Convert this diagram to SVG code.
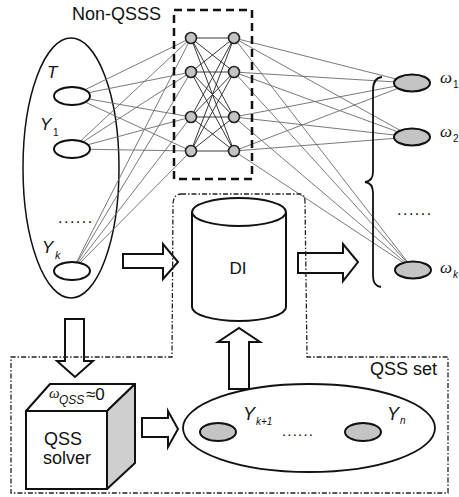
<svg xmlns="http://www.w3.org/2000/svg" width="459" height="497" viewBox="0 0 459 497">
<style>
.in{stroke:#6a6a6a;stroke-width:0.9;fill:none}
.hid{stroke:#222;stroke-width:0.9;fill:none}
.out{stroke:#6a6a6a;stroke-width:0.9;fill:none}
.node{fill:#fff;stroke:#111;stroke-width:2}
.gnode{fill:#c4c4c4;stroke:#111;stroke-width:2}
.neuron{fill:#c4c4c4;stroke:#222;stroke-width:1.6}
.blk{fill:#fff;stroke:#111;stroke-width:2;stroke-linejoin:miter}
.dd{fill:none;stroke:#222;stroke-width:1.3;stroke-dasharray:5 2 1.5 2}
.sans{font-family:"Liberation Sans",Arial,sans-serif;fill:#111}
.it{font-family:"Liberation Sans",Arial,sans-serif;font-style:italic;fill:#111}
.om{font-family:"Liberation Serif","Times New Roman",serif;font-style:italic;fill:#111}
</style>
<rect width="459" height="497" fill="#fff"/>

<g id="input-set">
<ellipse cx="71" cy="168" rx="48" ry="130" fill="none" stroke="#111" stroke-width="1.5"/>
</g>

<g id="connectors">
<g class="in">
<line x1="72" y1="96" x2="191" y2="38"/><line x1="72" y1="96" x2="191" y2="72"/><line x1="72" y1="96" x2="191" y2="117"/><line x1="72" y1="96" x2="191" y2="151"/>
<line x1="72" y1="149" x2="191" y2="38"/><line x1="72" y1="149" x2="191" y2="72"/><line x1="72" y1="149" x2="191" y2="117"/><line x1="72" y1="149" x2="191" y2="151"/>
<line x1="72" y1="271" x2="191" y2="38"/><line x1="72" y1="271" x2="191" y2="72"/><line x1="72" y1="271" x2="191" y2="117"/><line x1="72" y1="271" x2="191" y2="151"/>
</g>
<g class="hid">
<line x1="191" y1="38" x2="234" y2="38"/><line x1="191" y1="38" x2="234" y2="72"/><line x1="191" y1="38" x2="234" y2="117"/><line x1="191" y1="38" x2="234" y2="151"/>
<line x1="191" y1="72" x2="234" y2="38"/><line x1="191" y1="72" x2="234" y2="72"/><line x1="191" y1="72" x2="234" y2="117"/><line x1="191" y1="72" x2="234" y2="151"/>
<line x1="191" y1="117" x2="234" y2="38"/><line x1="191" y1="117" x2="234" y2="72"/><line x1="191" y1="117" x2="234" y2="117"/><line x1="191" y1="117" x2="234" y2="151"/>
<line x1="191" y1="151" x2="234" y2="38"/><line x1="191" y1="151" x2="234" y2="72"/><line x1="191" y1="151" x2="234" y2="117"/><line x1="191" y1="151" x2="234" y2="151"/>
</g>
<g class="out">
<line x1="234" y1="38" x2="412" y2="83"/><line x1="234" y1="38" x2="412" y2="137"/><line x1="234" y1="38" x2="413" y2="269"/>
<line x1="234" y1="72" x2="412" y2="83"/><line x1="234" y1="72" x2="412" y2="137"/><line x1="234" y1="72" x2="413" y2="269"/>
<line x1="234" y1="117" x2="412" y2="83"/><line x1="234" y1="117" x2="412" y2="137"/><line x1="234" y1="117" x2="413" y2="269"/>
<line x1="234" y1="151" x2="412" y2="83"/><line x1="234" y1="151" x2="412" y2="137"/><line x1="234" y1="151" x2="413" y2="269"/>
</g>
<polygon class="blk" points="123,254 163,254 163,244 178,262 163,279 163,268 123,268"/>
<polygon class="blk" points="298,253 343,253 343,244 358,262 343,281 343,273 298,273"/>
<polygon class="blk" points="65,319 84,319 84,361 93,361 75,377 57,361 65,361"/>
<polygon class="blk" points="142,418 168,418 168,411 178,429 168,447 168,437 142,437"/>
<polygon class="blk" points="229,389 229,342 218,342 239,328 260,342 249,342 249,389"/>
</g>

<g id="non-qsss">
<rect x="174" y="10" width="78" height="169" fill="none" stroke="#111" stroke-width="2.5" stroke-dasharray="8 5"/>
<text class="sans" x="72" y="20" font-size="18">Non-QSSS</text>
<circle class="neuron" cx="191" cy="38" r="5.5"/><circle class="neuron" cx="191" cy="72" r="5.5"/><circle class="neuron" cx="191" cy="117" r="5.5"/><circle class="neuron" cx="191" cy="151" r="5.5"/>
<circle class="neuron" cx="234" cy="38" r="5.5"/><circle class="neuron" cx="234" cy="72" r="5.5"/><circle class="neuron" cx="234" cy="117" r="5.5"/><circle class="neuron" cx="234" cy="151" r="5.5"/>
</g>

<g id="input-T">
<ellipse class="node" cx="72" cy="96" rx="18" ry="9"/>
<text class="it" x="47" y="78" font-size="17">T</text>
</g>
<g id="input-Y1">
<ellipse class="node" cx="72" cy="149" rx="18" ry="9"/>
<text class="it" x="40" y="130" font-size="17">Y</text><text class="sans" x="53" y="136" font-size="10">1</text>
</g>
<text class="sans" x="58" y="223" font-size="16" letter-spacing="1.5">......</text>
<g id="input-Yk">
<ellipse class="node" cx="72" cy="271" rx="18" ry="9"/>
<text class="it" x="42" y="253" font-size="17">Y</text><text class="it" x="55" y="259" font-size="11">k</text>
</g>

<g id="outputs">
<path d="M382,77 Q373,78 373,90 L373,172 Q373,181 365,182 Q373,183 373,193 L373,276 Q373,286 381,287" fill="none" stroke="#111" stroke-width="1.8"/>
<g id="out-w1"><ellipse class="gnode" cx="412" cy="83" rx="18" ry="8.5"/><text class="om" x="440" y="83" font-size="17">ω</text><text class="sans" x="453" y="88" font-size="10">1</text></g>
<g id="out-w2"><ellipse class="gnode" cx="412" cy="137" rx="18" ry="8.5"/><text class="om" x="440" y="137" font-size="17">ω</text><text class="sans" x="453" y="142" font-size="10">2</text></g>
<text class="sans" x="397" y="215" font-size="16" letter-spacing="1.5">......</text>
<g id="out-wk"><ellipse class="gnode" cx="413" cy="270" rx="18" ry="8.5"/><text class="om" x="440" y="273" font-size="17">ω</text><text class="it" x="453" y="278" font-size="10">k</text></g>
</g>

<g id="DI">
<path d="M192,212 L192,307 A47,14 0 0 0 286,307 L286,212" fill="#fff" stroke="#111" stroke-width="2"/>
<ellipse cx="239" cy="212" rx="47" ry="14" fill="#fff" stroke="#111" stroke-width="2"/>
<text class="sans" x="238" y="274" font-size="17" text-anchor="middle">DI</text>
</g>

<g id="qss-set-region">
<path class="dd" d="M181,194 L300,194 Q305,194 305,202 L307,357 L448,357 L448,493 L11,493 L11,357 L172,357 L173,203 Q174,194 181,194"/>
<text class="sans" x="370" y="375" font-size="18">QSS set</text>
</g>

<g id="qss-solver">
<polygon points="26,411 50,384 135,384 107,411" fill="#fff" stroke="#111" stroke-width="2" stroke-linejoin="round"/>
<polygon points="107,411 135,384 135,463 107,489" fill="#cfcfcf" stroke="#111" stroke-width="2" stroke-linejoin="round"/>
<rect x="26" y="411" width="81" height="78" fill="#fff" stroke="#111" stroke-width="2"/>
<text class="om" x="49" y="398" font-size="15">ω</text><text class="it" x="59" y="404" font-size="12">QSS</text><text class="sans" x="86" y="400" font-size="17">≈0</text>
<text class="sans" x="44" y="445" font-size="18">QSS</text>
<text class="sans" x="43" y="464" font-size="18">solver</text>
</g>

<g id="qss-set">
<ellipse cx="309" cy="428" rx="126" ry="44" fill="none" stroke="#111" stroke-width="1.8"/>
<g id="qss-yk1"><ellipse class="gnode" cx="218" cy="432" rx="18" ry="9"/><text class="it" x="243" y="420" font-size="18">Y</text><text class="it" x="256" y="425" font-size="10">k+1</text></g>
<text class="sans" x="282" y="436" font-size="15" letter-spacing="1.2">......</text>
<g id="qss-yn"><ellipse class="gnode" cx="363" cy="432" rx="18" ry="9"/><text class="it" x="387" y="420" font-size="18">Y</text><text class="it" x="400" y="424" font-size="10">n</text></g>
</g>
</svg>
